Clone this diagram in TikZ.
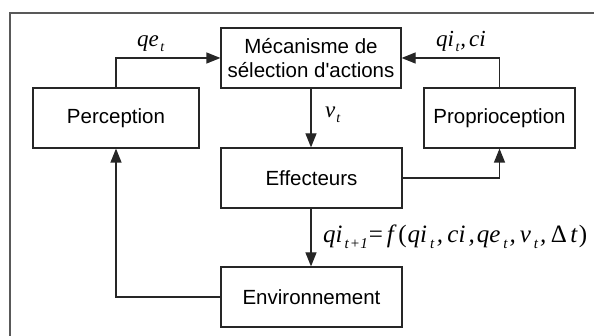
\documentclass[tikz,border=0pt]{standalone}
\usepackage{fontspec}
\setmainfont{Liberation Sans}[Ligatures=TeXOff]
\newfontfamily\tnr{Liberation Serif}[Ligatures=TeXOff]
\usetikzlibrary{arrows.meta}
\newcommand{\vv}[1]{{\tnr\itshape #1}}
\newcommand{\sbs}[1]{\raisebox{-0.4ex}{\fontsize{14pt}{15pt}\selectfont\tnr\itshape #1}}
\newcommand{\sbl}[1]{\raisebox{-0.4ex}{\fontsize{15pt}{16pt}\selectfont\tnr\itshape #1}}
\begin{document}
\begin{tikzpicture}[x=1pt,y=-1pt,
  blk/.style={draw=black!85,line width=1.2pt,inner sep=0pt,minimum height=60pt,align=center,font=\fontsize{20.5pt}{24pt}\selectfont},
  conn/.style={draw=black!85,line width=1.2pt,-{Triangle[length=14pt,width=11pt]}},
  lbl/.style={font=\fontsize{23pt}{24pt}\selectfont,inner sep=0pt},
  flbl/.style={font=\fontsize{25pt}{26pt}\selectfont,inner sep=0pt}]
\useasboundingbox (0,0) rectangle (594,336);
\draw[line width=1.3pt,black!65] (10,400) -- (10,13) -- (700,13);
\node[blk,minimum width=180pt] (mech) at (311,58) {Mécanisme de\\sélection d'actions};
\node[blk,minimum width=166pt] (perc) at (116,118) {Perception};
\node[blk,minimum width=151pt] (prop) at (499.5,118) {Proprioception};
\node[blk,minimum width=181pt] (eff) at (311.5,178) {Effecteurs};
\node[blk,minimum width=181pt] (env) at (311.5,297) {Environnement};
\draw[conn] (perc.north) |- (mech.west);
\draw[conn] (prop.north) |- (mech.east);
\draw[conn] (mech.south) -- (eff.north -| mech.south);
\draw[conn] (eff.east) -| (prop.south);
\draw[conn] (eff.south -| mech.south) -- (env.north -| mech.south);
\draw[conn] (env.west) -| (perc.south);
\node[lbl,anchor=base west] (l1) at (137,47) {\vv{qe}\hspace{1.5pt}\sbs{t}};
\node[lbl,anchor=base west] (l2) at (436,47) {\vv{qi}\hspace{1.5pt}\sbs{t}\hspace{1pt}\vv{,}\hspace{3pt}\vv{ci}};
\node[lbl,anchor=base west] (l3) at (325,118) {\vv{v}\hspace{1pt}\sbs{t}};
\node[flbl,anchor=base west] (l4) at (323,243) {\vv{qi}\hspace{2pt}\sbl{t\hspace{2pt}{\upshape+}\hspace{1pt}1}\hspace{1pt}{\tnr=}\hspace{4pt}\vv{f}\hspace{4.5pt}{\tnr(}\hspace{1pt}\vv{qi}\hspace{3pt}\sbl{t}\hspace{2.5pt}\vv{,}\hspace{4.5pt}\vv{ci}\hspace{3pt}\vv{,}\hspace{2pt}\vv{qe}\hspace{3pt}\sbl{t}\hspace{2pt}\vv{,}\hspace{4pt}\vv{v}\hspace{3pt}\sbl{t}\hspace{2pt}\vv{,}\hspace{4.5pt}{\tnr\upshape Δ}\hspace{3.5pt}\vv{t}\hspace{1.5pt}{\tnr)}};
\end{tikzpicture}
\end{document}
